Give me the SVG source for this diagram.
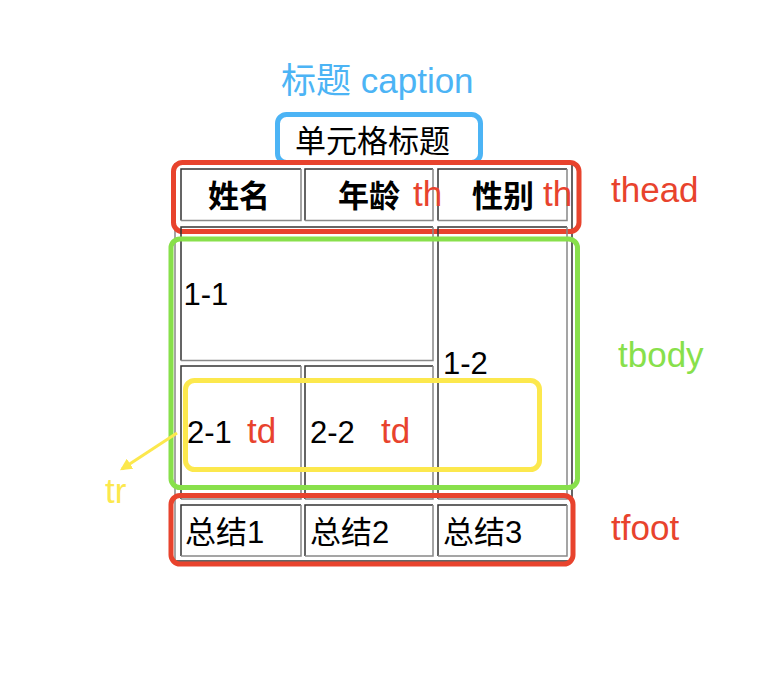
<svg xmlns="http://www.w3.org/2000/svg" width="766" height="684" viewBox="0 0 766 684">
<style>
text{font-family:"Liberation Sans","Noto Sans CJK SC",sans-serif}
.t{font-size:31px;fill:#000}
.b{font-weight:bold}
.lbl{font-size:35px}
.red{fill:#E8432D}
.grn{fill:#88E04B}
.blu{fill:#4CB4F5}
.yel{fill:#FCE84D}
.dk{fill:none;stroke:#333;stroke-width:1.5}
.lt{fill:none;stroke:#888;stroke-width:1.5}
.box{fill:none;stroke-width:5}
</style>
<defs>
<marker id="ah" viewBox="0 0 10 10" refX="8" refY="5" markerWidth="4" markerHeight="4" orient="auto">
<path d="M0,0 L10,5 L0,10 z" fill="#FCE84D"/>
</marker>
</defs>
<rect width="766" height="684" fill="#fff"/>

<g id="table-frame">
<path class="lt" d="M175,561 V164 H572"/>
<path class="dk" d="M572,164 V561 H175"/>
</g>

<g id="caption">
<rect class="box" x="277.5" y="114.5" width="203" height="48" rx="9" stroke="#4CB4F5"/>
<text class="t" x="295" y="152">单元格标题</text>
</g>

<g id="thead">
<g id="th-1"><path class="dk" d="M181,220.5 V169 H301"/><path class="lt" d="M301,169 V220.5 H181"/><text class="t b" x="239" y="207" text-anchor="middle">姓名</text></g>
<g id="th-2"><path class="dk" d="M305,220.5 V169 H433"/><path class="lt" d="M433,169 V220.5 H305"/><text class="t b" x="369" y="207" text-anchor="middle">年龄</text></g>
<g id="th-3"><path class="dk" d="M438,220.5 V169 H567"/><path class="lt" d="M567,169 V220.5 H438"/><text class="t b" x="503" y="207" text-anchor="middle">性别</text></g>
<rect class="box" x="173.5" y="162.5" width="405.5" height="69" rx="9" stroke="#E8432D"/>
</g>

<g id="tbody">
<g id="td-1-1"><path class="dk" d="M181,360.5 V227 H433"/><path class="lt" d="M433,227 V360.5 H181"/><text class="t" x="183.5" y="305">1-1</text></g>
<g id="td-1-2"><path class="dk" d="M438,499 V227 H567"/><path class="lt" d="M567,227 V499 H438"/><text class="t" x="443" y="374">1-2</text></g>
<g id="td-2-1"><path class="dk" d="M181,499 V366 H301"/><path class="lt" d="M301,366 V499 H181"/><text class="t" x="187" y="443">2-1</text></g>
<g id="td-2-2"><path class="dk" d="M305,499 V366 H433"/><path class="lt" d="M433,366 V499 H305"/><text class="t" x="310" y="443">2-2</text></g>
<rect class="box" x="171" y="239" width="406.5" height="248.5" rx="9" stroke="#88E04B"/>
</g>

<g id="tr">
<rect class="box" x="185.5" y="380.5" width="354" height="89" rx="9" stroke="#FCE84D"/>
</g>

<g id="tfoot">
<g id="tf-1"><path class="dk" d="M181,556 V505 H301"/><path class="lt" d="M301,505 V556 H181"/><text class="t" x="185" y="543">总结1</text></g>
<g id="tf-2"><path class="dk" d="M305,556 V505 H433"/><path class="lt" d="M433,505 V556 H305"/><text class="t" x="310" y="543">总结2</text></g>
<g id="tf-3"><path class="dk" d="M438,556 V505 H567"/><path class="lt" d="M567,505 V556 H438"/><text class="t" x="443" y="543">总结3</text></g>
<rect class="box" x="171" y="495.5" width="402" height="68.5" rx="9" stroke="#E8432D"/>
</g>

<g id="connectors">
<line x1="177" y1="433" x2="122" y2="469" stroke="#FCE84D" stroke-width="3" marker-end="url(#ah)"/>
</g>

<g id="labels">
<text class="lbl blu" x="281" y="93">标题 caption</text>
<text class="lbl red" x="413" y="206">th</text>
<text class="lbl red" x="543" y="206">th</text>
<text class="lbl red" x="247" y="443">td</text>
<text class="lbl red" x="381" y="443">td</text>
<text class="lbl red" x="611" y="201.5">thead</text>
<text class="lbl grn" x="618" y="366.5">tbody</text>
<text class="lbl red" x="611" y="540">tfoot</text>
<text class="lbl yel" x="105" y="503">tr</text>
</g>
</svg>
